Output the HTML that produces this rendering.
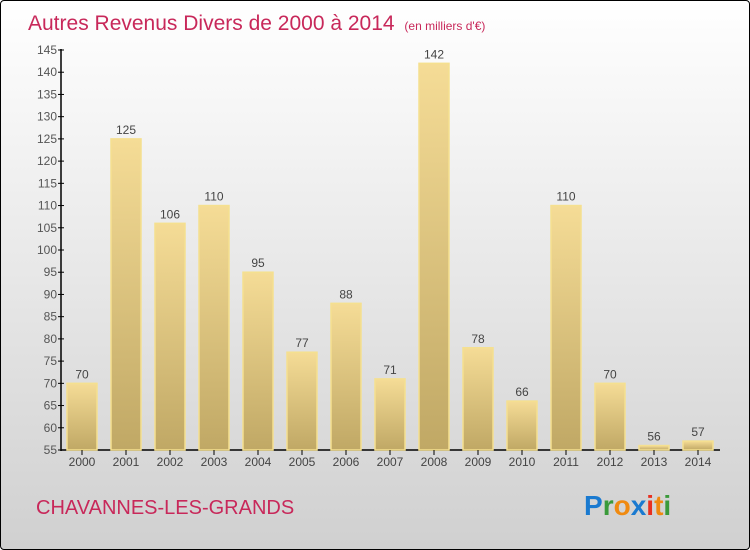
<!DOCTYPE html>
<html><head><meta charset="utf-8"><style>
body{margin:0;width:750px;height:550px;overflow:hidden;font-family:"Liberation Sans",sans-serif}
#wrap{position:absolute;left:0;top:0;width:748px;height:548px;border:1px solid #000;border-radius:4px;background:linear-gradient(#fff,#d0d0d0)}
</style></head><body>
<div id="wrap">
<svg width="750" height="550" style="position:absolute;left:-1px;top:-1px">
<defs><linearGradient id="bg" x1="0" y1="0" x2="0" y2="1"><stop offset="0" stop-color="#f5dc96"/><stop offset="1" stop-color="#c0a865"/></linearGradient></defs>
<text x="28" y="30" font-size="21" fill="#c8285a">Autres Revenus Divers de 2000 à 2014 <tspan font-size="12" dx="4">(en milliers d'€)</tspan></text>
<g id="plot"></g>
<text x="36" y="514" font-size="20" fill="#c8285a">CHAVANNES-LES-GRANDS</text>
<text x="584" y="515" font-size="28" font-weight="bold"><tspan fill="#1a7ad0">P</tspan><tspan fill="#3a9a3a">r</tspan><tspan fill="#f08a10">o</tspan><tspan fill="#1a7ad0">x</tspan><tspan fill="#e83020">i</tspan><tspan fill="#f08a10">t</tspan><tspan fill="#3a9a3a">i</tspan></text>
</svg></div>
<script>
const years=["2000","2001","2002","2003","2004","2005","2006","2007","2008","2009","2010","2011","2012","2013","2014"];
const values=[70,125,106,110,95,77,88,71,142,78,66,110,70,56,57];
const yTicks=[55,60,65,70,75,80,85,90,95,100,105,110,115,120,125,130,135,140,145];
const NS="http://www.w3.org/2000/svg";
const g=document.getElementById('plot');
const y=v=>450-(v-55)*400/90;
const x=i=>82+i*44;
function el(t,a){const e=document.createElementNS(NS,t);for(const k in a)e.setAttribute(k,a[k]);g.appendChild(e);return e;}
let ax=el('line',{x1:61,y1:49,x2:61,y2:451,stroke:'#000','stroke-width':1.5});


let bx=el('line',{x1:61,y1:450,x2:720,y2:450,stroke:'#000','stroke-width':1.5});


yTicks.forEach(t=>{
 el('line',{x1:58,x2:64,y1:y(t),y2:y(t),stroke:'#000'});
 const tx=el('text',{x:57,y:y(t)+4,'font-size':12,fill:'#555','text-anchor':'end'});tx.textContent=t;
 
 
});
years.forEach((yr,i)=>{
 const v=values[i];
 const r=el('rect',{x:x(i)-15,y:y(v),width:30,height:450-y(v),fill:'url(#bg)',stroke:'#f5e08f','stroke-width':1.5});
 
 
 const l=el('text',{x:x(i),y:y(v)-5,'font-size':12,fill:'#444','text-anchor':'middle'});l.textContent=v;
 
 
 el('line',{x1:x(i),x2:x(i),y1:450,y2:455,stroke:'#000'});
 const xl=el('text',{x:x(i),y:466,'font-size':12,fill:'#444','text-anchor':'middle'});xl.textContent=yr;
 
 
});
</script>
</body></html>
